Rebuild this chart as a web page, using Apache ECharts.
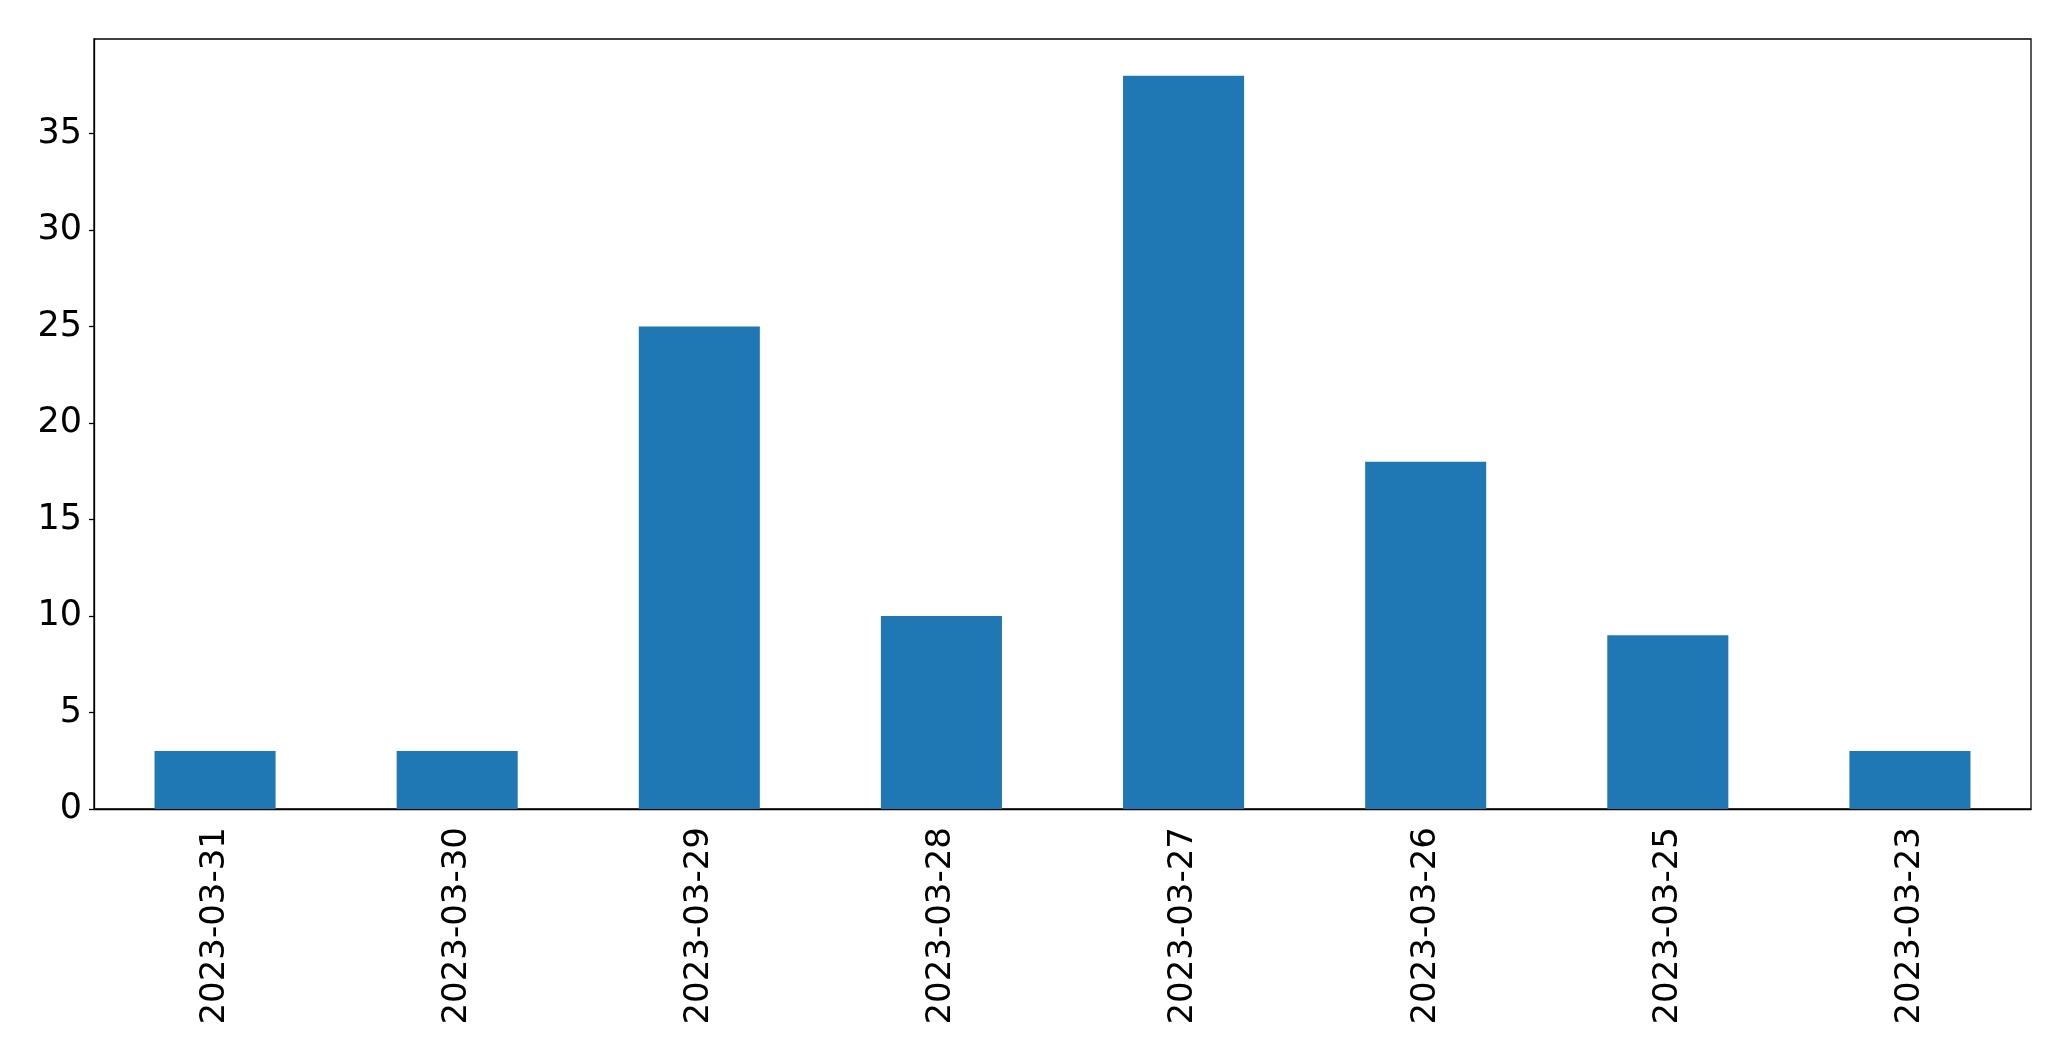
<!DOCTYPE html>
<html><head><meta charset="utf-8">
<script src="https://cdn.jsdelivr.net/npm/echarts@6/dist/echarts.min.js"></script>
<style>html,body{margin:0;padding:0;background:#fff}#c{width:2071px;height:1061px}</style>
</head><body><div id="c"></div>
<script>
const categories = ["2023-03-31","2023-03-30","2023-03-29","2023-03-28","2023-03-27","2023-03-26","2023-03-25","2023-03-23"];
const values = [3,3,25,10,38,18,9,3];
const yTicks = [0,5,10,15,20,25,30,35];

const chart = echarts.init(document.getElementById('c'), null, {renderer:'canvas'});
chart.setOption({
  animation:false,
  backgroundColor:'#fff',
  grid:{left:94, top:39, right:40, bottom:252, show:true, borderColor:'#000', borderWidth:1.3, backgroundColor:'transparent'},
  xAxis:{type:'category', data:categories, boundaryGap:true,
    axisLine:{lineStyle:{color:'#000', width:1.3}},
    axisTick:{alignWithLabel:true, length:5, lineStyle:{color:'#000', width:1.3}},
    axisLabel:{rotate:90, margin:18, color:'#000', fontSize:34, fontFamily:'DejaVu Sans', interval:0}},
  yAxis:{type:'value', min:0, max:39.9, interval:5,
    axisLine:{show:true, lineStyle:{color:'#000', width:1.3}},
    axisTick:{show:true, length:5, lineStyle:{color:'#000', width:1.3}},
    splitLine:{show:false},
    axisLabel:{color:'#000', fontSize:35, fontFamily:'DejaVu Sans', margin:12, showMaxLabel:false,
      formatter:v=> yTicks.includes(v)?String(v):''}},
  series:[{type:'bar', data:values, barWidth:'50%', itemStyle:{color:'#1f77b4'}}]
});
</script></body></html>
